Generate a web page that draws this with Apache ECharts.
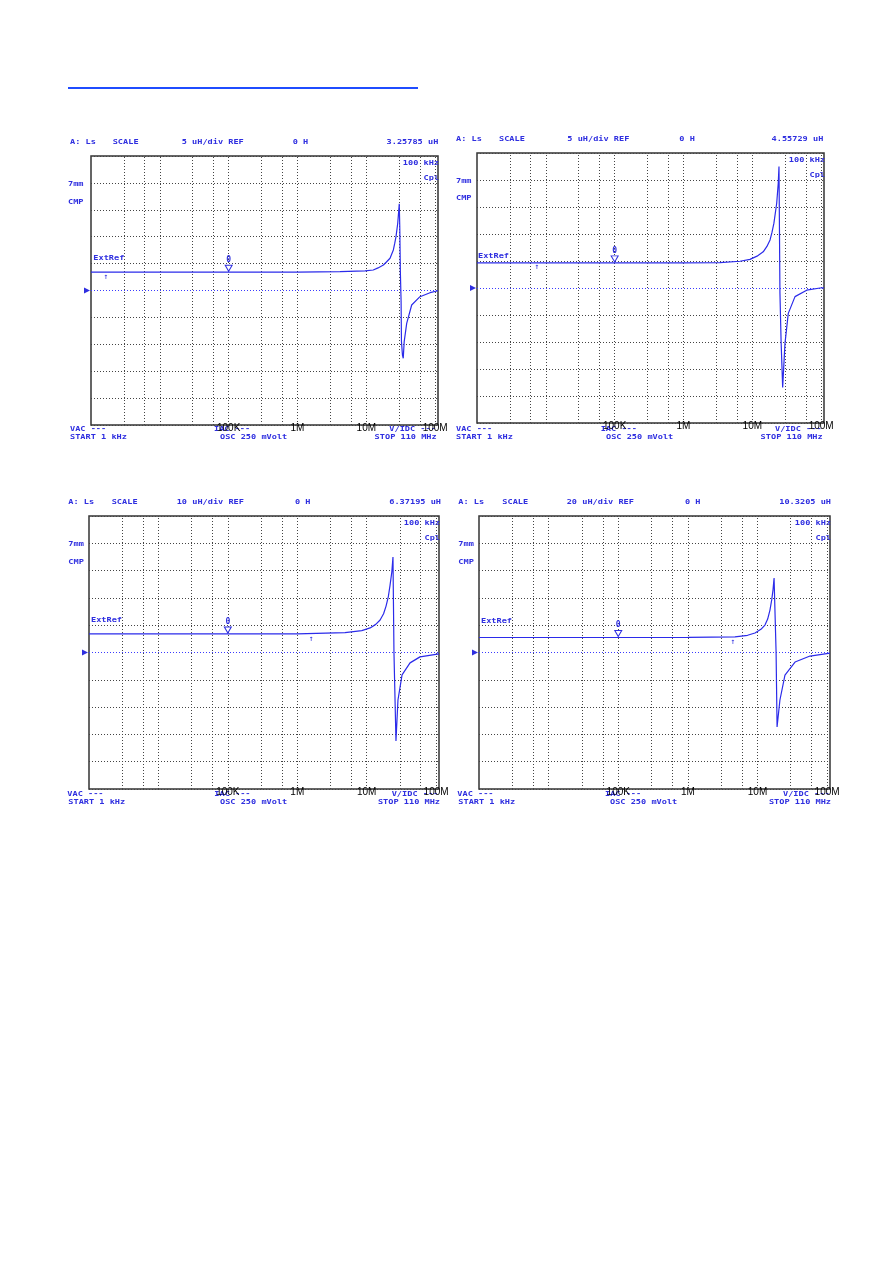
<!DOCTYPE html>
<html><head><meta charset="utf-8">
<script src="https://cdn.jsdelivr.net/npm/echarts@6/dist/echarts.min.js"></script>
<style>html,body{margin:0;padding:0;background:#fff;}#c{width:892px;height:1261px;}</style>
</head><body><div id="c"></div>
<script>
// ---------- data ----------
const freqMin = 1e3, freqMax = 1.1e8;
const decadeLabels = {100000:'100K', 1000000:'1M', 10000000:'10M', 100000000:'100M'};
const gridFreqs = [3e3,6e3,1e4,3e4,6e4,1e5,3e5,6e5,1e6,3e6,6e6,1e7,3e7,6e7,1e8];
const divUnit = [5, 5, 10, 20];            // uH per division
const headerScale = ['5 uH/div REF','5 uH/div REF','10 uH/div REF','20 uH/div REF'];
const headerValue = ['3.25785 uH','4.55729 uH','6.37195 uH','10.3205 uH'];
const markerFreq = 1e5;
const arrowFreq = [1.65e3, 7.4e3, 1.58e6, 4.45e6];

const p1Freq = [1e3,1e5,1e6,4.15e6,9.57e6,12.6e6,14.8e6,17.7e6,19.6e6,22.1e6,24.7e6,25.9e6,27.0e6,28.6e6,30.1e6,30.6e6,31.2e6,32.0e6,32.4e6,33.5e6,34.4e6,35.5e6,38.6e6,45.6e6,60.2e6,84.2e6,1.1e8];
const p1Ls   = [3.4,3.4,3.42,3.49,3.65,3.81,4.2,4.74,5.3,5.99,7.53,8.8,10.0,12.5,16.1,12,3.7,-2,-9.5,-12,-12.6,-9.5,-6.1,-2.7,-1.15,-0.41,-0.04];

const p2Freq = [1e3,1e5,1e6,3.39e6,6.62e6,9.25e6,11.7e6,14.4e6,16.3e6,18.1e6,19.3e6,20.6e6,22.6e6,23.8e6,24.4e6,25.2e6,26.2e6,27.6e6,29.8e6,33.3e6,41.7e6,61.6e6,96.2e6,1.1e8];
const p2Ls   = [4.65,4.65,4.66,4.7,4.95,5.3,5.9,6.7,7.7,8.9,10.3,12,15.7,19.4,22.5,-1,-10,-18.4,-10.3,-4.7,-1.6,-0.4,0,0.05];

const p3Freq = [1e3,1e5,1e6,4.87e6,8.5e6,11.2e6,13.5e6,15.6e6,17.5e6,19.0e6,20.5e6,21.7e6,23.0e6,23.9e6,24.7e6,26.4e6,28.2e6,32.3e6,42.1e6,58.6e6,1.1e8];
const p3Ls   = [6.8,6.8,6.85,7.3,8.0,9.0,10.3,11.9,14.2,17.0,20.5,24.7,29.5,35.0,0,-32.4,-17.4,-8.2,-3.8,-1.6,-0.5];

const p4Freq = [1e3,1e5,1e6,4.75e6,7.2e6,9.2e6,11.2e6,12.8e6,14.0e6,15.1e6,16.0e6,16.7e6,17.3e6,18.5e6,19.1e6,21.0e6,24.8e6,34.6e6,56.8e6,1.1e8];
const p4Ls   = [11,11,11.05,11.4,12.6,14.3,17.0,20.1,24.5,31.1,38.5,45.8,54.6,0,-54.6,-34.8,-16.5,-7.0,-2.6,-0.4];

const seriesFreq = [p1Freq, p2Freq, p3Freq, p4Freq];
const seriesLs = [p1Ls, p2Ls, p3Ls, p4Ls];

// ---------- layout ----------
const BLUE = '#2f2fe0';
const TRACE = '#2b2bea';
const GRIDC = '#444';
const panels = [
  {L:91, T:156, R:438, B:425, hy:142,   hx:[70,112.7,181.7,292.7,438.3], mx:68,  my:[184,202], ext:[93.3,258.3],
   bot:{vac:[70,429.3], start:[70,437.3], iac:[214,429.3], osc:[220,437.3], vidc:[389.3,429.3], stop:[436.7,437.3]}},
  {L:477, T:153, R:824, B:423, hy:139.3, hx:[456,499,567.3,679.3,823.3], mx:456, my:[181,198], ext:[478,255.7],
   bot:{vac:[456,429.3], start:[456,436.7], iac:[600.7,429.3], osc:[606,436.7], vidc:[775,429.3], stop:[822.7,436.7]}},
  {L:89, T:516, R:439, B:789, hy:502.3, hx:[68.3,111.7,176.7,295,441], mx:68.3, my:[544.3,561.7], ext:[91,620],
   bot:{vac:[67.3,794.3], start:[68.3,802.3], iac:[214.3,794.3], osc:[220,802.3], vidc:[391.7,794.3], stop:[440,802.3]}},
  {L:479, T:516, R:830, B:789, hy:502.3, hx:[458.3,502.3,566.7,685,831], mx:458.3, my:[544.3,561.7], ext:[481,621],
   bot:{vac:[457.3,794.3], start:[458.3,802.3], iac:[605,794.3], osc:[610,802.3], vidc:[783,794.3], stop:[831,802.3]}}
];

function T(x, y, text, align) {
  return {type:'text', x:x, y:y, scaleY:0.85, silent:true,
    style:{text:text, fill:BLUE, font:'bold 8.6px "DejaVu Sans Mono"', textAlign:align||'left', align:align||'left',
           textVerticalAlign:'middle', verticalAlign:'middle'}};
}

const grid = [], xAxis = [], yAxis = [], series = [], graphics = [];
graphics.push({type:'line', silent:true, shape:{x1:68, y1:88, x2:418, y2:88}, style:{stroke:'#1f4cff', lineWidth:2}});

panels.forEach((p, i) => {
  const u = divUnit[i];
  grid.push({left:p.L, top:p.T, width:p.R-p.L, height:p.B-p.T, show:true, borderColor:'#333', borderWidth:1.5, backgroundColor:'rgba(0,0,0,0)'});
  xAxis.push({type:'log', logBase:10, gridIndex:i, min:freqMin, max:freqMax,
    axisLine:{show:false}, axisTick:{show:false}, splitLine:{show:false},
    axisLabel:{show:true, interval:0, margin:-2, color:'#000', fontSize:10, fontFamily:'Liberation Sans',
      formatter:v => decadeLabels[Math.round(v)] || ''}});
  yAxis.push({type:'value', gridIndex:i, min:-5*u, max:5*u, interval:u,
    axisLine:{show:false}, axisTick:{show:false}, axisLabel:{show:false},
    splitLine:{show:true, lineStyle:{type:[1,2], color:GRIDC, width:1}}});
  const data = seriesFreq[i].map((f, k) => [f, seriesLs[i][k]]);
  const flat = seriesLs[i][1];
  series.push({type:'line', xAxisIndex:i, yAxisIndex:i, data:data, showSymbol:false, animation:false,
    lineStyle:{color:TRACE, width:1.2}, z:5,
    markLine:{silent:true, symbol:'none', animation:false, label:{show:false},
      lineStyle:{type:[1,2], color:GRIDC, width:1},
      data: gridFreqs.map(f => ({xAxis:f})).concat([{yAxis:0, lineStyle:{type:[1,2], color:'#3b3bff', width:1}}])},
    markPoint:{silent:true, animation:false, data:[
      {coord:[freqMin, 0], symbol:'triangle', symbolRotate:-90, symbolSize:[6,6], symbolOffset:[-4,0], itemStyle:{color:BLUE}, label:{show:false}},
      {coord:[markerFreq, flat], symbol:'triangle', symbolRotate:180, symbolSize:[7,6], symbolOffset:[0,-4],
        itemStyle:{color:'#fff', borderColor:BLUE, borderWidth:1},
        label:{show:true, formatter:'0', position:'top', distance:1, color:BLUE, fontSize:8, fontWeight:'bold', fontFamily:'DejaVu Sans Mono'}},
      {coord:[arrowFreq[i], flat], symbol:'circle', symbolSize:1, itemStyle:{color:'rgba(0,0,0,0)'},
        label:{show:true, formatter:'↑', position:'bottom', distance:0, color:BLUE, fontSize:8, fontFamily:'DejaVu Sans Mono'}}
    ]}
  });
  graphics.push(T(p.hx[0], p.hy, 'A: Ls'));
  graphics.push(T(p.hx[1], p.hy, 'SCALE'));
  graphics.push(T(p.hx[2], p.hy, headerScale[i]));
  graphics.push(T(p.hx[3], p.hy, '0 H'));
  graphics.push(T(p.hx[4], p.hy, headerValue[i], 'right'));
  graphics.push(T(p.mx, p.my[0], '7mm'));
  graphics.push(T(p.mx, p.my[1], 'CMP'));
  graphics.push(T(p.R+1, p.T+7.5, '100 kHz', 'right'));
  graphics.push(T(p.R+1, p.T+22.5, 'Cpl', 'right'));
  graphics.push(T(p.ext[0], p.ext[1], 'ExtRef'));
  graphics.push(T(p.bot.vac[0], p.bot.vac[1], 'VAC ---'));
  graphics.push(T(p.bot.start[0], p.bot.start[1], 'START 1 kHz'));
  graphics.push(T(p.bot.iac[0], p.bot.iac[1], 'IAC ---'));
  graphics.push(T(p.bot.osc[0], p.bot.osc[1], 'OSC 250 mVolt'));
  graphics.push(T(p.bot.vidc[0], p.bot.vidc[1], 'V/IDC ---'));
  graphics.push(T(p.bot.stop[0], p.bot.stop[1], 'STOP 110 MHz', 'right'));
});

const chart = echarts.init(document.getElementById('c'), null, {renderer:'canvas'});
chart.setOption({animation:false, backgroundColor:'#fff', grid:grid, xAxis:xAxis, yAxis:yAxis, series:series, graphic:graphics});
</script></body></html>
